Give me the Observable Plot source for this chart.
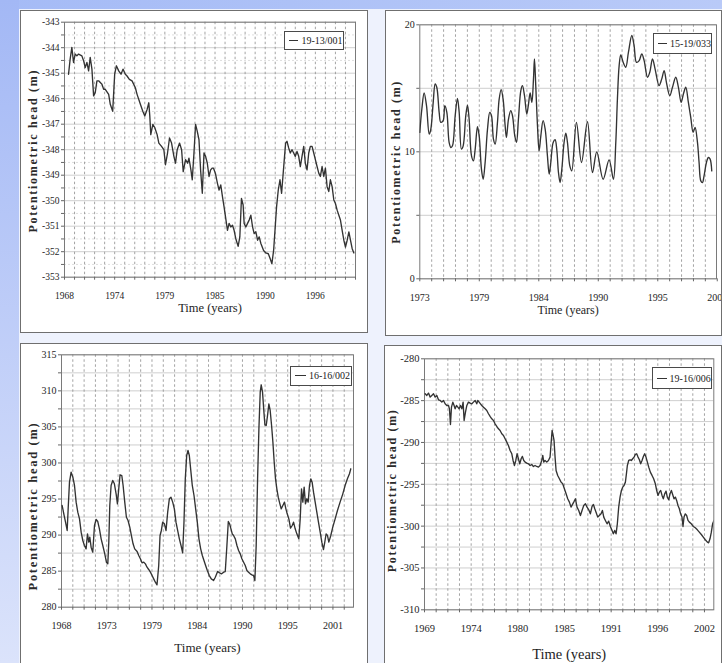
<!DOCTYPE html>
<html><head><meta charset="utf-8">
<script src="https://cdn.jsdelivr.net/npm/d3@7"></script>
<script src="https://cdn.jsdelivr.net/npm/@observablehq/plot@0.6"></script>
<style>
html,body{margin:0;padding:0;}
body{width:722px;height:663px;overflow:hidden;position:relative;background:#eef2fd;font-family:"Liberation Serif",serif;}
.strip-top{position:absolute;left:0;top:0;width:722px;height:9px;background:linear-gradient(to right,#a5bbf6,#b9caf8);}
.strip-left{position:absolute;left:0;top:0;width:19px;height:663px;background:linear-gradient(to bottom,#a3b8f5,#dbe3fb);}
.panel{position:absolute;box-sizing:border-box;border:1px solid #6f6f6f;background:#fff;overflow:hidden;}
.panel svg{position:absolute;left:0;top:0;}
.legend{position:absolute;box-sizing:border-box;border:1px solid #4a4a4a;background:#fff;font-size:10px;color:#222;display:flex;align-items:center;padding-left:4px;white-space:nowrap;}
.legend .sw{display:inline-block;width:11px;height:0;border-top:1.3px solid #333;margin-right:3px;}
</style></head>
<body>
<div class="strip-top"></div>
<div class="strip-left"></div>
<script>
// ---------------- data ----------------
const xTitle = "Time (years)";
const yTitle = "Potentiometric head (m)";

const p1Name = "19-13/001";
const p1XLabels = ["1968","1974","1979","1985","1990","1996"];
const p1YLabels = [-353,-352,-351,-350,-349,-348,-347,-346,-345,-344,-343];
const p1Data = [
[1968.45,-345.04],[1968.63,-344.45],[1968.82,-343.99],[1969.01,-344.58],[1969.19,-344.25],[1969.38,-344.32],[1969.57,-344.25],[1969.94,-344.32],[1970.13,-344.51],[1970.31,-344.78],[1970.50,-344.58],[1970.69,-344.91],[1970.87,-344.38],[1971.06,-344.84],[1971.25,-345.89],[1971.43,-345.76],[1971.62,-345.30],[1971.81,-345.30],[1972.18,-345.43],[1972.37,-345.63],[1972.55,-345.63],[1972.93,-345.83],[1973.11,-346.22],[1973.38,-346.49],[1973.60,-345.04],[1973.79,-344.71],[1974.05,-344.91],[1974.31,-345.04],[1974.53,-344.84],[1974.79,-345.04],[1974.98,-345.11],[1975.24,-345.24],[1975.54,-345.30],[1975.91,-345.57],[1976.10,-345.83],[1976.47,-346.22],[1976.74,-346.49],[1976.96,-346.68],[1977.22,-346.42],[1977.41,-346.16],[1977.52,-346.68],[1977.63,-347.41],[1977.86,-347.01],[1978.08,-347.14],[1978.34,-347.41],[1978.53,-347.74],[1978.83,-347.87],[1979.09,-348.00],[1979.27,-348.59],[1979.50,-348.13],[1979.72,-347.54],[1979.95,-347.74],[1980.21,-348.26],[1980.39,-348.53],[1980.58,-348.00],[1980.84,-347.74],[1981.07,-348.00],[1981.25,-348.86],[1981.51,-348.39],[1981.74,-348.53],[1981.89,-348.33],[1982.11,-348.79],[1982.26,-349.18],[1982.45,-348.13],[1982.63,-347.01],[1982.82,-347.28],[1983.01,-347.61],[1983.19,-348.79],[1983.38,-349.71],[1983.57,-348.13],[1983.75,-348.26],[1983.94,-348.53],[1984.13,-349.05],[1984.31,-348.79],[1984.50,-348.72],
[1984.62,-348.72],[1984.84,-348.92],[1985.07,-349.32],[1985.25,-349.58],[1985.44,-349.38],[1985.63,-349.84],[1985.81,-350.24],[1986.00,-350.70],[1986.19,-351.16],[1986.37,-350.89],[1986.56,-351.03],[1986.75,-350.96],[1986.93,-351.16],[1987.12,-351.49],[1987.38,-351.79],[1987.57,-351.42],[1987.75,-349.91],[1987.94,-350.17],[1988.05,-350.89],[1988.24,-351.03],[1988.43,-350.89],[1988.61,-350.76],[1988.80,-350.57],[1988.99,-351.03],[1989.17,-351.29],[1989.36,-351.22],[1989.55,-351.55],[1989.73,-351.42],[1989.92,-351.68],[1990.22,-351.95],[1990.48,-352.05],[1990.75,-352.08],[1990.96,-352.28],[1991.15,-352.47],[1991.34,-351.95],[1991.52,-351.03],[1991.67,-350.24],[1991.86,-349.58],[1992.05,-349.18],[1992.23,-349.71],[1992.38,-349.05],[1992.53,-348.39],[1992.68,-347.74],[1992.83,-347.67],[1993.02,-347.93],[1993.20,-348.13],[1993.39,-348.00],[1993.58,-348.13],[1993.76,-348.26],[1993.95,-348.07],[1994.14,-348.26],[1994.32,-348.66],[1994.51,-348.26],[1994.70,-347.87],[1994.88,-348.53],[1995.07,-348.79],[1995.26,-348.13],[1995.44,-347.87],[1995.63,-347.87],[1995.82,-348.13],[1996.00,-348.39],[1996.19,-348.66],[1996.38,-348.92],[1996.56,-349.05],[1996.75,-348.66],[1996.94,-349.05],[1997.12,-348.72],[1997.31,-349.45],[1997.50,-349.64],[1997.68,-349.18],[1997.87,-349.45],[1998.06,-349.97],[1998.24,-350.11],[1998.43,-350.37],[1998.62,-350.57],[1998.80,-350.76],[1998.99,-351.16],[1999.18,-351.55],[1999.36,-351.82],[1999.55,-351.55],[1999.74,-351.22],[1999.92,-351.55],[2000.11,-351.88],[2000.30,-352.05]
];

const p2Name = "15-19/033";
const p2XLabels = ["1973","1979","1984","1990","1995","2001"];
const p2YLabels = [0,10,20];
const p2Data = [
[1973.00,11.53],[1973.19,13.37],[1973.40,14.63],[1973.62,13.63],[1973.87,11.39],[1974.02,11.79],[1974.24,13.89],[1974.42,15.34],[1974.57,15.08],[1974.79,13.11],[1974.94,12.32],[1975.16,12.45],[1975.31,13.63],[1975.50,13.11],[1975.71,10.74],[1975.87,10.34],[1976.02,10.47],[1976.27,12.84],[1976.48,14.21],[1976.64,13.11],[1976.85,10.21],[1977.01,10.47],[1977.25,12.84],[1977.41,13.68],[1977.56,12.58],[1977.78,9.68],[1977.96,9.29],[1978.12,10.21],[1978.33,11.97],[1978.49,11.26],[1978.70,8.63],[1978.86,7.84],[1979.04,9.16],[1979.26,11.79],[1979.47,13.11],[1979.63,12.84],[1979.81,11.00],[1979.97,10.61],[1980.18,12.32],[1980.34,14.16],[1980.52,14.89],[1980.70,14.16],[1980.89,12.05],[1981.01,11.13],[1981.20,12.58],[1981.41,13.24],[1981.57,12.84],[1981.78,11.26],[1981.94,10.74],[1982.12,12.58],[1982.34,14.82],[1982.49,15.21],[1982.68,14.42],[1982.89,12.97],[1983.05,13.76],[1983.20,14.63],[1983.36,13.89],[1983.51,15.74],[1983.60,17.32],[1983.72,15.21],[1983.88,12.05],[1984.03,10.08],[1984.19,11.26],[1984.40,12.45],[1984.59,11.79],[1984.80,9.68],[1984.96,8.24],[1985.11,9.16],[1985.33,10.74],[1985.51,10.95],[1985.66,10.21],[1985.82,8.37],[1985.97,7.58],[1986.13,8.63],[1986.34,10.74],[1986.50,11.47],[1986.65,10.74],[1986.87,8.89],[1987.05,8.50],[1987.48,12.32],[1987.95,9.16],[1988.50,12.37],[1988.96,8.37],[1989.36,10.00],[1989.95,7.84],[1990.50,9.37],[1990.90,7.84],[1991.12,10.74],[1991.27,14.16],[1991.43,16.79],[1991.58,17.63],[1991.80,17.05],[1992.04,16.66],[1992.29,17.84],[1992.60,19.16],[1992.81,18.37],[1993.03,17.05],[1993.28,17.18],[1993.52,17.71],[1993.74,17.18],[1994.05,15.87],[1994.26,16.26],[1994.51,17.32],[1994.75,16.53],[1995.12,15.21],[1995.37,15.74],[1995.59,16.39],[1995.80,15.47],[1996.11,14.42],[1996.36,15.08],[1996.66,15.87],[1996.91,15.08],[1997.16,13.89],[1997.37,14.55],[1997.59,15.08],[1997.83,13.89],[1998.05,12.71],[1998.27,11.53],[1998.45,11.92],[1998.67,10.74],[1998.82,9.16],[1998.98,7.71],[1999.13,7.58],[1999.28,8.11],[1999.50,9.16],[1999.68,9.55],[1999.84,9.42],[1999.99,8.50]
];

const p3Name = "16-16/002";
const p3XLabels = ["1968","1973","1979","1984","1990","1995","2001"];
const p3YLabels = [280,285,290,295,300,305,310,315];
const p3Data = [
[1968.08,294.10],[1968.28,292.95],[1968.49,291.79],[1968.69,290.64],[1968.81,293.64],[1968.97,297.34],[1969.17,298.73],[1969.38,298.03],[1969.58,296.88],[1969.78,294.57],[1969.98,293.18],[1970.19,292.25],[1970.39,290.40],[1970.59,289.25],[1970.79,288.56],[1970.99,288.09],[1971.16,290.17],[1971.32,289.02],[1971.44,289.71],[1971.60,288.32],[1971.80,287.63],[1972.01,291.33],[1972.21,292.16],[1972.41,291.88],[1972.61,290.87],[1972.82,289.48],[1973.02,288.56],[1973.26,287.40],[1973.46,286.24],[1973.63,286.01],[1973.75,289.02],[1973.87,294.10],[1974.03,296.88],[1974.23,297.57],[1974.43,297.11],[1974.64,295.72],[1974.80,294.33],[1974.96,296.41],[1975.12,298.36],[1975.33,298.26],[1975.49,296.88],[1975.69,294.57],[1975.89,292.48],[1976.09,292.02],[1976.30,291.10],[1976.50,289.94],[1976.70,288.79],[1976.90,288.09],[1977.19,287.72],[1977.39,287.17],[1977.59,286.71],[1977.79,286.15],[1978.00,286.24],[1978.20,286.01],[1978.40,285.55],[1978.60,285.23],[1978.81,284.86],[1979.01,284.39],[1979.21,283.93],[1979.41,283.47],[1979.61,283.10],[1979.82,285.78],[1979.98,289.94],[1980.14,290.64],[1980.30,291.79],[1980.51,291.56],[1980.71,290.64],[1980.91,293.18],[1981.11,295.03],[1981.31,295.26],[1981.52,294.57],[1981.72,293.64],[1981.92,291.79],[1982.12,290.64],[1982.33,289.48],[1982.53,288.56],[1982.73,287.54],[1982.89,291.79],[1983.05,297.80],[1983.22,301.04],[1983.38,301.73],[1983.54,301.04],[1983.70,299.19],[1983.90,296.88],[1984.11,295.49],[1984.31,293.64],[1984.51,291.79],[1984.71,289.48],[1984.92,288.09],[1985.12,287.17],[1985.32,286.47],[1985.52,285.78],[1985.73,285.09],[1985.97,284.39],[1986.21,283.93],[1986.49,283.70],
[1986.70,284.16],[1986.98,284.95],[1987.22,284.76],[1987.47,284.63],[1987.71,284.86],[1987.91,284.95],[1988.11,288.56],[1988.28,291.88],[1988.44,291.56],[1988.60,290.87],[1988.76,290.17],[1988.92,289.94],[1989.13,289.48],[1989.33,288.56],[1989.53,287.86],[1989.73,287.40],[1989.93,286.71],[1990.14,286.24],[1990.34,285.78],[1990.54,285.09],[1990.74,284.86],[1990.95,284.63],[1991.15,284.49],[1991.35,284.39],[1991.51,283.70],[1991.67,288.56],[1991.84,297.80],[1992.00,304.74],[1992.16,309.82],[1992.28,310.84],[1992.44,309.82],[1992.61,307.05],[1992.73,305.29],[1992.89,305.20],[1993.05,306.59],[1993.21,308.20],[1993.37,307.28],[1993.54,305.20],[1993.70,302.89],[1993.86,300.11],[1994.02,297.80],[1994.18,296.41],[1994.35,295.26],[1994.55,294.33],[1994.71,293.64],[1994.91,294.10],[1995.11,294.57],[1995.28,293.64],[1995.44,292.95],[1995.64,292.25],[1995.84,290.96],[1996.05,291.33],[1996.21,291.79],[1996.41,290.87],[1996.61,290.17],[1996.85,289.48],[1997.02,292.25],[1997.18,296.41],[1997.34,294.57],[1997.50,296.65],[1997.66,294.33],[1997.83,295.03],[1997.99,294.57],[1998.15,296.88],[1998.31,297.80],[1998.47,297.34],[1998.64,295.95],[1998.84,294.57],[1999.04,293.18],[1999.24,291.79],[1999.45,290.40],[1999.65,289.02],[1999.85,288.00],[2000.01,289.02],[2000.17,290.17],[2000.34,289.94],[2000.50,289.02],[2000.74,289.94],[2000.98,291.10],[2001.27,292.25],[2001.55,293.41],[2001.87,294.57],[2002.20,295.72],[2002.48,296.88],[2002.76,297.80],[2003.01,298.50],[2003.17,299.19]
];

const p4Name = "19-16/006";
const p4XLabels = ["1969","1974","1980","1985","1991","1996","2002"];
const p4YLabels = [-310,-305,-300,-295,-290,-285,-280];
const p4Data = [
[1969.08,-284.18],[1969.27,-284.38],[1969.47,-284.10],[1969.67,-284.58],[1969.86,-284.38],[1970.06,-284.18],[1970.26,-284.58],[1970.45,-284.38],[1970.65,-284.90],[1970.85,-284.98],[1971.04,-285.18],[1971.24,-284.98],[1971.43,-285.38],[1971.63,-285.58],[1971.83,-285.58],[1971.94,-285.98],[1972.06,-287.85],[1972.18,-285.78],[1972.34,-285.18],[1972.49,-285.58],[1972.61,-285.98],[1972.77,-285.58],[1972.93,-285.78],[1973.08,-285.98],[1973.24,-285.58],[1973.40,-285.98],[1973.55,-285.18],[1973.67,-287.37],[1973.83,-286.37],[1973.99,-285.58],[1974.18,-285.18],[1974.38,-285.30],[1974.58,-285.38],[1974.77,-285.18],[1974.97,-284.98],[1975.16,-285.38],[1975.28,-284.98],[1975.44,-285.18],[1975.60,-285.38],[1975.75,-285.58],[1975.95,-285.78],[1976.15,-285.98],[1976.34,-286.18],[1976.54,-286.57],[1976.73,-286.89],[1976.93,-287.17],[1977.13,-287.37],[1977.32,-287.77],[1977.52,-288.09],[1977.72,-288.37],[1977.91,-288.57],[1978.11,-288.96],[1978.31,-289.16],[1978.50,-289.56],[1978.70,-289.96],[1978.89,-290.36],[1979.09,-290.96],[1979.29,-291.35],[1979.44,-292.15],[1979.60,-292.75],[1979.76,-292.15],[1979.91,-291.35],[1980.07,-291.95],[1980.23,-292.55],[1980.39,-291.95],[1980.54,-291.67],[1980.70,-292.15],[1980.86,-292.35],[1981.05,-292.47],[1981.25,-292.55],[1981.45,-292.75],[1981.64,-292.63],[1981.84,-292.87],[1982.03,-292.75],[1982.23,-292.87],[1982.43,-292.95],[1982.62,-292.75],[1982.82,-292.15],[1982.94,-291.55],[1983.06,-292.35],[1983.21,-292.15],[1983.41,-292.35],[1983.61,-292.15],[1983.80,-291.75],[1983.92,-290.16],[1984.04,-288.57],[1984.16,-289.16],[1984.27,-289.76],[1984.39,-291.75],[1984.51,-293.35],[1984.70,-293.94],[1984.90,-294.34],[1985.10,-294.74],[1985.29,-294.94],[1985.49,-295.54],[1985.69,-296.14],[1985.88,-296.73],[1986.08,-297.13],[1986.27,-297.73],
[1986.59,-297.13],[1986.79,-296.73],[1986.98,-297.73],[1987.18,-298.13],[1987.38,-298.73],[1987.57,-298.13],[1987.77,-297.53],[1987.97,-297.33],[1988.16,-297.73],[1988.36,-298.05],[1988.55,-298.53],[1988.75,-297.65],[1988.91,-297.41],[1989.07,-297.93],[1989.22,-298.33],[1989.42,-298.92],[1989.61,-298.73],[1989.81,-298.53],[1989.97,-298.13],[1990.13,-298.92],[1990.32,-299.32],[1990.52,-299.72],[1990.71,-299.40],[1990.91,-300.04],[1991.11,-300.52],[1991.26,-300.92],[1991.42,-300.52],[1991.58,-300.92],[1991.73,-299.72],[1991.89,-297.73],[1992.05,-296.53],[1992.21,-295.74],[1992.36,-295.34],[1992.52,-295.14],[1992.68,-294.74],[1992.80,-293.75],[1992.91,-292.75],[1993.07,-292.15],[1993.23,-292.07],[1993.38,-292.15],[1993.54,-291.95],[1993.70,-291.75],[1993.85,-291.43],[1994.01,-291.35],[1994.17,-291.75],[1994.33,-292.07],[1994.48,-292.55],[1994.64,-292.15],[1994.80,-291.67],[1994.95,-291.35],[1995.11,-291.75],[1995.27,-292.35],[1995.43,-292.95],[1995.62,-293.55],[1995.82,-293.94],[1996.01,-294.34],[1996.21,-294.94],[1996.37,-295.74],[1996.52,-296.33],[1996.68,-295.94],[1996.84,-295.74],[1997.00,-296.33],[1997.15,-296.73],[1997.31,-296.14],[1997.47,-295.82],[1997.62,-296.53],[1997.78,-296.85],[1997.94,-296.14],[1998.10,-295.74],[1998.25,-296.22],[1998.41,-296.73],[1998.57,-296.53],[1998.72,-296.93],[1998.88,-297.53],[1999.04,-297.93],[1999.19,-298.53],[1999.35,-298.92],[1999.47,-300.04],[1999.59,-298.92],[1999.74,-298.53],[1999.90,-298.73],[2000.06,-299.32],[2000.22,-299.52],[2000.45,-299.72],[2000.69,-300.04],[2000.92,-300.20],[2001.16,-300.44],[2001.39,-300.72],[2001.63,-301.00],[2001.86,-301.31],[2002.10,-301.63],[2002.34,-301.91],[2002.49,-301.99],[2002.65,-301.51],[2002.81,-300.72],[2002.96,-299.72],[2003.12,-299.32]
];

// ---------------- layout ----------------
const panels = [
  {name:p1Name, data:p1Data, xLabels:p1XLabels, yLabels:p1YLabels,
   frame:[20,10,367,332], plot:[64,21.7,355,276.7], xDomain:[1968,2000.48], step:5.6, perStep:5,
   yStep:0.5, yMinorStyle:true, curve:"linear", tickFont:9.5, xTitleFont:12.5, xTitleDy:35,
   yTitleFont:12, yTitleDx:31, yTitleDy:1, legend:[284,30.5,343.5,49.5]},
  {name:p2Name, data:p2Data, xLabels:p2XLabels, yLabels:p2YLabels,
   frame:[385,10,721,335], plot:[419.3,24.3,716,278.3], xDomain:[1973,2000.43], step:5.5, perStep:5,
   yStep:5, yMinorStyle:false, curve:"catmull-rom", tickFont:10, xTitleFont:12, xTitleDy:35,
   yTitleFont:12, yTitleDx:24, yTitleDy:10, legend:[652.7,33.3,712,54.3]},
  {name:p3Name, data:p3Data, xLabels:p3XLabels, yLabels:p3YLabels,
   frame:[20,343,367,690], plot:[61,354.3,353,606.7], xDomain:[1968,2003.5], step:5.5, perStep:4,
   yStep:2.5, yMinorStyle:false, curve:"linear", tickFont:10, xTitleFont:13, xTitleDy:45,
   yTitleFont:12.5, yTitleDx:29, yTitleDy:25, legend:[290,365.7,352,385.7]},
  {name:p4Name, data:p4Data, xLabels:p4XLabels, yLabels:p4YLabels,
   frame:[384,345,721,690], plot:[424,358.3,713.3,609.3], xDomain:[1969,2003.1], step:5.5, perStep:4,
   yStep:2.5, yMinorStyle:false, curve:"linear", tickFont:10.5, xTitleFont:14.5, xTitleDy:49,
   yTitleFont:12, yTitleDx:32, yTitleDy:6, legend:[652.3,367.3,711.7,389.3]}
];

for (const p of panels) {
  const [fl, ft, fr, fb] = p.frame;
  const [pl, pt, pr, pb] = p.plot;
  const div = document.createElement("div");
  div.className = "panel";
  Object.assign(div.style, {left: fl + "px", top: ft + "px", width: (fr - fl + 1) + "px", height: (fb - ft + 1) + "px"});
  document.body.appendChild(div);
  const ox = fl + 1, oy = ft + 1;
  const w = fr - fl - 1, h = fb - ft - 1;

  const gStep = p.step / p.perStep;
  const nGrid = Math.floor((p.xDomain[1] - p.xDomain[0]) / gStep + 1e-6);
  const xGrid = d3.range(0, nGrid + 1).map(i => p.xDomain[0] + i * gStep);
  const xLabelMap = new Map();
  xGrid.forEach((v, i) => { if (i % p.perStep === 0 && p.xLabels[i / p.perStep] !== undefined) xLabelMap.set(v, p.xLabels[i / p.perStep]); });
  const extraTicks = [];
  p.xLabels.forEach((lab, k) => {
    const v = p.xDomain[0] + k * p.step;
    if (v > p.xDomain[1] + 1e-6) { extraTicks.push(v); xLabelMap.set(v, lab); }
  });

  const yMin = d3.min(p.yLabels), yMax = d3.max(p.yLabels);
  const yGrid = d3.range(0, Math.round((yMax - yMin) / p.yStep) + 1).map(i => yMin + i * p.yStep);
  const isLabel = v => p.yLabels.some(l => Math.abs(l - v) < 1e-6);
  const yMajor = p.yMinorStyle ? yGrid.filter(isLabel) : yGrid;
  const yMinor = p.yMinorStyle ? yGrid.filter(v => !isLabel(v)) : [];

  const chart = Plot.plot({
    width: w, height: h,
    marginLeft: pl - ox, marginRight: (ox + w) - pr,
    marginTop: pt - oy, marginBottom: (oy + h) - pb,
    style: {fontFamily: '"Liberation Serif", serif', fontSize: p.tickFont + "px", color: "#1e1e1e", background: "transparent", overflow: "visible"},
    x: {domain: p.xDomain, label: null},
    y: {domain: [yMin, yMax], label: null},
    marks: [
      Plot.ruleY(yMinor, {stroke: "#d6d6d6", strokeWidth: 0.8, strokeDasharray: "2,2"}),
      Plot.ruleY(yMajor, {stroke: "#c9c9c9", strokeWidth: 0.9}),
      Plot.ruleX(xGrid.slice(1), {stroke: "#8c8c8c", strokeWidth: 0.8, strokeDasharray: "2.5,2.5"}),
      Plot.frame({stroke: "#7a7a7a", strokeWidth: 1}),
      Plot.line(p.data, {x: d => d[0], y: d => d[1], stroke: "#333", strokeWidth: 1.35, curve: p.curve, clip: true}),
      Plot.axisX({ticks: xGrid.concat(extraTicks), tickFormat: d => xLabelMap.get(d) ?? "", tickSize: 3, tickPadding: 12, stroke: "#666", fontSize: p.tickFont, label: null}),
      Plot.axisY({ticks: yGrid, tickFormat: d => isLabel(d) ? String(d) : "", tickSize: 3, tickPadding: 2, stroke: "#666", fontSize: p.tickFont, label: null}),
      Plot.text([xTitle], {text: d => d, frameAnchor: "bottom", textAnchor: "middle", dy: p.xTitleDy, fontSize: p.xTitleFont, fill: "#1e1e1e"}),
      Plot.text([yTitle], {text: d => d, frameAnchor: "left", textAnchor: "middle", dx: -p.yTitleDx, dy: p.yTitleDy, rotate: -90, fontSize: p.yTitleFont, fontWeight: "bold", fill: "#2a2a2a"})
    ]
  });
  div.appendChild(chart);
  // widen the letter spacing of the vertical title, as in the scanned figure
  chart.querySelectorAll("text").forEach(t => {
    if (t.textContent === yTitle) {
      t.setAttribute("letter-spacing", "1.7px");
      t.style.setProperty("letter-spacing", "1.7px");
    }
  });

  // legend box
  const [lx0, ly0, lx1, ly1] = p.legend;
  const lg = document.createElement("div");
  lg.className = "legend";
  Object.assign(lg.style, {left: lx0 + "px", top: ly0 + "px", width: (lx1 - lx0) + "px", height: (ly1 - ly0) + "px"});
  const sw = document.createElement("span"); sw.className = "sw";
  const tx = document.createElement("span"); tx.textContent = p.name;
  lg.appendChild(sw); lg.appendChild(tx);
  document.body.appendChild(lg);
}
</script>
</body></html>
